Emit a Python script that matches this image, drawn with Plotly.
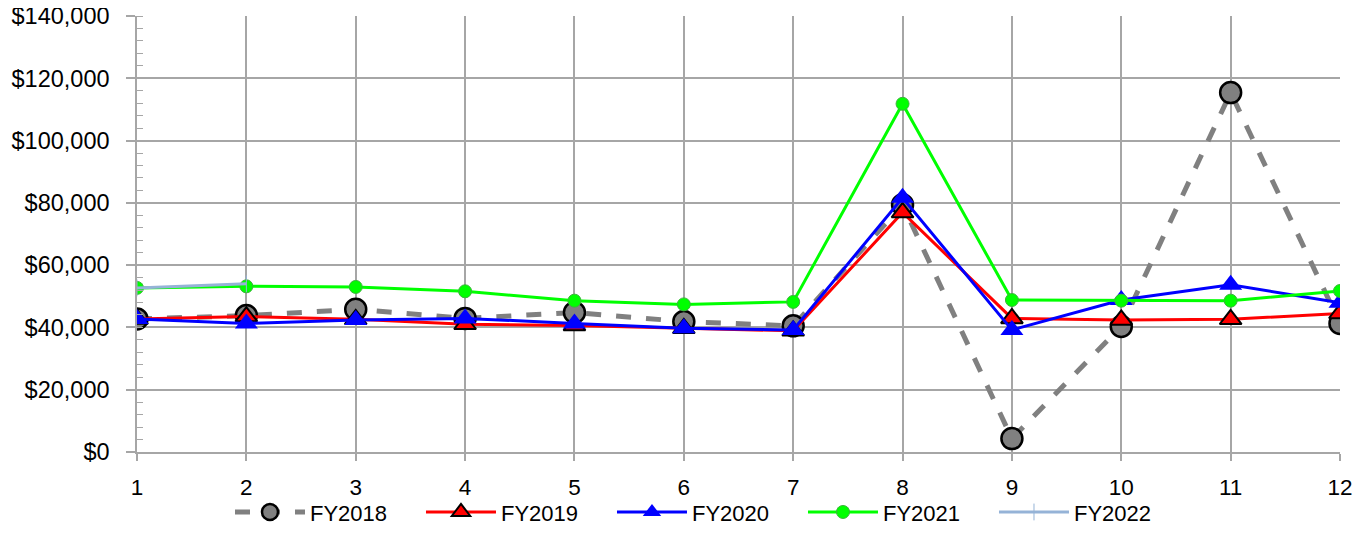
import plotly.graph_objects as go

months = list(range(1, 13))
fy2018 = [42700, 43800, 45800, 42900, 44800, 41900, 40500, 79400, 4300, 40300, 115400, 41300]
fy2019 = [42700, 43500, 42600, 41000, 40600, 39700, 38900, 76900, 42900, 42400, 42600, 44500]
fy2020 = [42700, 41300, 42400, 42900, 41300, 39700, 39200, 81600, 39200, 48800, 53700, 47900]
fy2021 = [52700, 53200, 53000, 51600, 48600, 47400, 48200, 111800, 48800, 48600, 48600, 51700]
fy2022 = [52700, 54000]
y_ticks = [0, 20000, 40000, 60000, 80000, 100000, 120000, 140000]

FONT = "Liberation Sans, Arial, sans-serif"

fig = go.Figure()
fig.add_trace(go.Scatter(
    x=months, y=fy2018, name="FY2018", mode="lines+markers",
    line=dict(color="#808080", width=5, dash="dash"),
    marker=dict(symbol="circle", size=21, color="#808080", line=dict(color="#000000", width=2.5)),
))
fig.add_trace(go.Scatter(
    x=months, y=fy2019, name="FY2019", mode="lines+markers",
    line=dict(color="#FF0000", width=3),
    marker=dict(symbol="triangle-up", size=19, color="#FF0000", line=dict(color="#000000", width=2)),
))
fig.add_trace(go.Scatter(
    x=months, y=fy2020, name="FY2020", mode="lines+markers",
    line=dict(color="#0000FF", width=3),
    marker=dict(symbol="triangle-up", size=20, color="#0000FF", line=dict(color="#0000FF", width=0)),
))
fig.add_trace(go.Scatter(
    x=months, y=fy2021, name="FY2021", mode="lines+markers",
    line=dict(color="#00FF00", width=3),
    marker=dict(symbol="circle", size=13, color="#00FF00", line=dict(color="#3CB43C", width=1)),
))
fig.add_trace(go.Scatter(
    x=months[:len(fy2022)], y=fy2022, name="FY2022", mode="lines+markers",
    line=dict(color="#95B3D7", width=3),
    marker=dict(symbol="line-ns", size=12, color="#95B3D7", line=dict(color="#95B3D7", width=1)),
))

fig.update_layout(
    width=1366, height=533,
    margin=dict(l=129, r=34, t=8, b=84),
    paper_bgcolor="white", plot_bgcolor="white",
    font=dict(family=FONT, size=23.5, color="#000000"),
    showlegend=True,
    legend=dict(orientation="h", x=0.0773, xanchor="left", y=-0.138, yanchor="middle",
                font=dict(family=FONT, size=22), itemwidth=70, tracegroupgap=0,
                entrywidth=106, entrywidthmode="pixels",
                bgcolor="rgba(0,0,0,0)"),
)
fig.update_xaxes(
    range=[1, 12], tickmode="array", tickvals=months, ticktext=[str(m) for m in months],
    tickfont=dict(size=22.5),
    showgrid=True, gridcolor="#A6A6A6", gridwidth=1.5,
    showline=True, linecolor="#A6A6A6", linewidth=1.5,
    ticks="outside", ticklen=7, tickcolor="#A6A6A6", tickwidth=1.5,
    ticklabelstandoff=7, ticklabeloverflow="allow",
    zeroline=False, automargin=False,
)
fig.update_yaxes(
    range=[0, 140000], tickmode="array", tickvals=y_ticks,
    ticktext=["$" + f"{v:,}" for v in y_ticks],
    showgrid=True, gridcolor="#A6A6A6", gridwidth=1.5,
    showline=True, linecolor="#A6A6A6", linewidth=1.5,
    ticks="outside", ticklen=9, tickcolor="#A6A6A6", tickwidth=1.5,
    ticklabelstandoff=12, ticklabeloverflow="allow",
    minor=dict(ticks="inside", ticklen=6, tickcolor="#A6A6A6", tickwidth=1, dtick=4000, showgrid=False),
    zeroline=False, automargin=False,
)

fig.write_html("out.html", config={"displayModeBar": False})
